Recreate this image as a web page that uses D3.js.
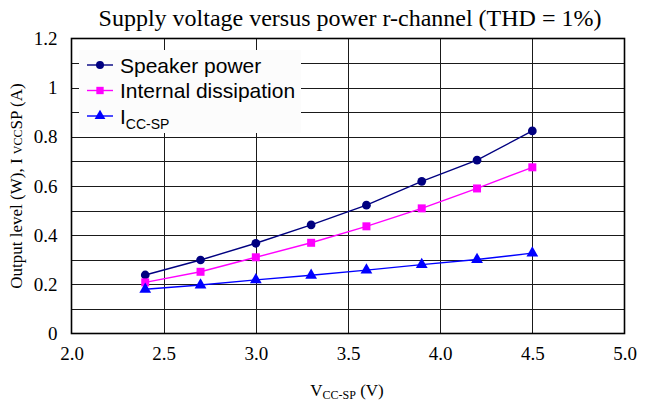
<!DOCTYPE html>
<html><head><meta charset="utf-8">
<script src="https://cdn.jsdelivr.net/npm/d3@7"></script>
<style>html,body{margin:0;padding:0;background:#fff;}svg{display:block;}</style>
</head><body>
<svg id="c" width="651" height="407"></svg>
<script>
const voltages = [2.4, 2.7, 3.0, 3.3, 3.6, 3.9, 4.2, 4.5];
const speakerPower = [0.238, 0.299, 0.367, 0.442, 0.522, 0.619, 0.705, 0.824];
const internalDissipation = [0.208, 0.251, 0.310, 0.369, 0.436, 0.509, 0.590, 0.676];
const iccSp = [0.180, 0.197, 0.218, 0.237, 0.258, 0.280, 0.301, 0.327];
const xTicks = [2.0, 2.5, 3.0, 3.5, 4.0, 4.5, 5.0];
const yTicks = [0, 0.2, 0.4, 0.6, 0.8, 1.0, 1.2];
const yGrid = [0.1, 0.2, 0.3, 0.4, 0.5, 0.6, 0.7, 0.8, 0.9, 1.0, 1.1];

const svg = d3.select("#c");
const L = 71.5, R = 624.5, T = 38.5, B = 333.5;
const x = d3.scaleLinear().domain([2, 5]).range([L, R]);
const y = d3.scaleLinear().domain([0, 1.2]).range([B, T]);
const serif = "'Liberation Serif','Times New Roman',serif";
const sans = "'Liberation Sans',Arial,sans-serif";

// title
svg.append("text").attr("x", 350).attr("y", 26).attr("text-anchor", "middle")
  .attr("font-family", serif).attr("font-size", 24).attr("fill", "#000")
  .text("Supply voltage versus power r-channel (THD = 1%)");

// grid
const g = svg.append("g");
g.selectAll(".hg").data(yGrid).join("line")
  .attr("x1", L).attr("x2", R).attr("y1", d => Math.round(y(d)) + 0.5).attr("y2", d => Math.round(y(d)) + 0.5)
  .attr("stroke", "#1a1a1a").attr("stroke-width", 1);
g.selectAll(".vg").data(xTicks.slice(1, -1)).join("line")
  .attr("y1", T).attr("y2", B).attr("x1", d => Math.round(x(d)) + 0.5).attr("x2", d => Math.round(x(d)) + 0.5)
  .attr("stroke", "#1a1a1a").attr("stroke-width", 1);

// axes labels via d3 axes
const yAxis = d3.axisLeft(y).tickValues(yTicks).tickSize(0).tickPadding(14)
  .tickFormat(d => d3.format("")(+d.toFixed(1)));
const ya = svg.append("g").attr("transform", `translate(${L},0)`).call(yAxis);
ya.select(".domain").remove();
ya.selectAll("text").attr("font-family", serif).attr("font-size", 19).attr("fill", "#000");

const xAxis = d3.axisBottom(x).tickValues(xTicks).tickSize(0).tickPadding(13)
  .tickFormat(d3.format(".1f"));
const xa = svg.append("g").attr("transform", `translate(0,${B})`).call(xAxis);
xa.select(".domain").remove();
xa.selectAll("text").attr("font-family", serif).attr("font-size", 19).attr("fill", "#000");

// border
svg.append("rect").attr("x", L).attr("y", T).attr("width", R - L).attr("height", B - T)
  .attr("fill", "none").attr("stroke", "#000").attr("stroke-width", 1.6);

// series
const series = [
  {name: "Speaker power", vals: speakerPower, color: "#000080", shape: d3.symbolCircle, size: 60},
  {name: "Internal dissipation", vals: internalDissipation, color: "#FF00FF", shape: d3.symbolSquare, size: 64},
  {name: "ICC-SP", vals: iccSp, color: "#0000FF", shape: d3.symbolTriangle, size: 60}
];
const line = d3.line().x(d => x(d[0])).y(d => y(d[1]));
series.forEach(s => {
  const pts = voltages.map((v, i) => [v, s.vals[i]]);
  svg.append("path").attr("d", line(pts)).attr("fill", "none").attr("stroke", s.color).attr("stroke-width", 1.4);
  svg.selectAll(null).data(pts).join("path")
    .attr("transform", d => `translate(${x(d[0])},${y(d[1])})`)
    .attr("d", d3.symbol().type(s.shape).size(s.size)).attr("fill", s.color);
});

// legend
const lg = svg.append("g");
lg.append("rect").attr("x", 79).attr("y", 50).attr("width", 222).attr("height", 83).attr("fill", "#fcfcfc");
const rows = [65, 90.5, 116];
series.forEach((s, i) => {
  const ry = rows[i];
  lg.append("line").attr("x1", 87).attr("x2", 113).attr("y1", ry).attr("y2", ry).attr("stroke", s.color).attr("stroke-width", 1.4);
  lg.append("path").attr("transform", `translate(100,${ry})`).attr("d", d3.symbol().type(s.shape).size(s.size - 10)).attr("fill", s.color);
  const t = lg.append("text").attr("x", 120).attr("y", ry + 7.5).attr("font-family", sans).attr("font-size", 21).attr("fill", "#000");
  if (i === 2) {
    t.append("tspan").text("I");
    t.append("tspan").attr("font-size", 14).attr("dy", 5).text("CC-SP");
  } else t.text(s.name);
});

// y title
const yt = svg.append("text").attr("transform", `translate(22,${(T + B) / 2}) rotate(-90)`)
  .attr("text-anchor", "middle").attr("font-family", serif).attr("font-size", 17).attr("fill", "#000");
yt.append("tspan").text("Output level (W), I ");
yt.append("tspan").attr("font-size", 12).text("VCC");
yt.append("tspan").text("SP (A)");

// x title
const xt = svg.append("text").attr("x", 347).attr("y", 396).attr("text-anchor", "middle")
  .attr("font-family", serif).attr("font-size", 17).attr("fill", "#000");
xt.append("tspan").text("V");
xt.append("tspan").attr("font-size", 12).attr("dy", 3).text("CC-SP");
xt.append("tspan").attr("dy", -3).text(" (V)");
</script>
</body></html>
